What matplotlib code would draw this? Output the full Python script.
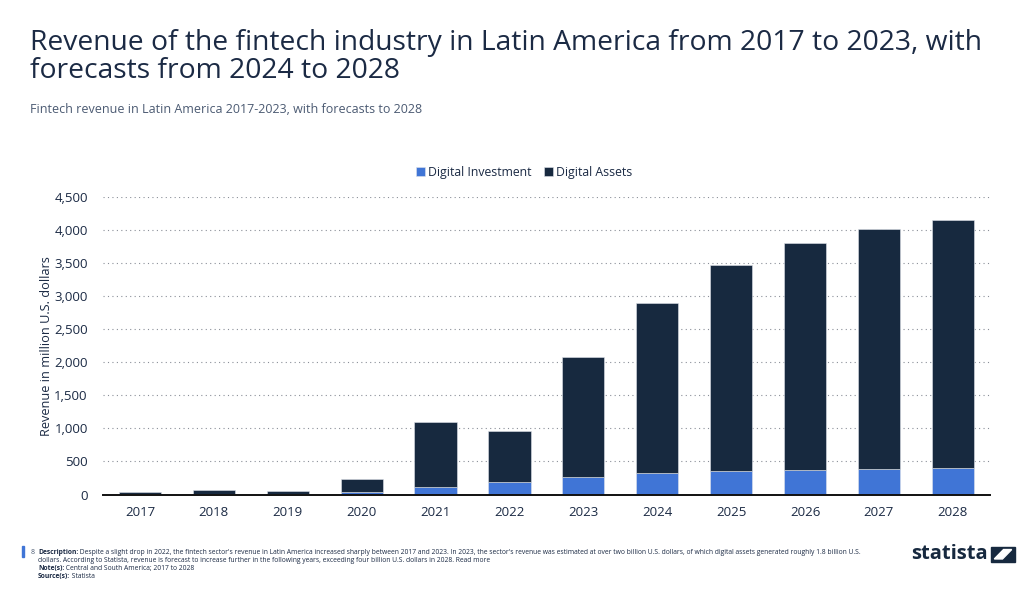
import matplotlib.pyplot as plt
import numpy as np
from matplotlib.patches import Rectangle, Polygon

# Fintech revenue in Latin America, million U.S. dollars
years = ["2017", "2018", "2019", "2020", "2021", "2022", "2023",
         "2024", "2025", "2026", "2027", "2028"]
digital_investment = [3, 4, 4, 35, 110, 185, 262, 322, 350, 375, 388, 400]
digital_assets = [37, 58, 56, 195, 990, 777, 1811, 2568, 3122, 3425, 3634, 3745]
y_ticks = [0, 500, 1000, 1500, 2000, 2500, 3000, 3500, 4000, 4500]

BLUE = "#4075d6"
NAVY = "#17293f"
TEXT = "#1b2a44"
GREY = "#4b5a72"

plt.rcParams["font.family"] = ["Open Sans", "DejaVu Sans"]

fig = plt.figure(figsize=(10.24, 5.89), dpi=100)
ax = fig.add_axes([0.1006, 0.1604, 0.866, 0.5052])

x = np.arange(len(years))
ax.bar(x, digital_investment, width=0.57, color=BLUE, label="Digital Investment",
       edgecolor="#dfe3ea", linewidth=0.4, zorder=3)
ax.bar(x, digital_assets, width=0.57, bottom=digital_investment, color=NAVY,
       label="Digital Assets", edgecolor="#dfe3ea", linewidth=0.4, zorder=3)

ax.set_xlim(-0.5, len(years) - 0.5)
ax.set_ylim(0, 4500)
ax.set_xticks(x)
ax.set_xticklabels(years)
ax.set_yticks(y_ticks)
ax.set_yticklabels([f"{v:,}" for v in y_ticks])
ax.tick_params(axis="both", length=0, labelsize=9.5, colors=TEXT)
ax.tick_params(axis="y", pad=11)
ax.tick_params(axis="x", pad=8)

ax.grid(axis="y", linestyle=(0, (1, 3)), color="#8a8f98", linewidth=0.8, zorder=0)
for side in ["top", "right", "left"]:
    ax.spines[side].set_visible(False)
ax.spines["bottom"].set_color("#111111")
ax.spines["bottom"].set_linewidth(1.4)
ax.spines["bottom"].set_zorder(4)

ax.set_ylabel("Revenue in million U.S. dollars", fontsize=9.2, color=TEXT, labelpad=1)

ax.legend(loc="lower center", bbox_to_anchor=(0.475, 1.025), ncol=2, frameon=False,
          fontsize=8.8, handlelength=0.75, handleheight=0.75, handletextpad=0.25,
          columnspacing=1.0, labelcolor=TEXT)

# Titles
fig.text(0.029, 0.856, "Revenue of the fintech industry in Latin America from 2017 to 2023, with\n"
         "forecasts from 2024 to 2028", fontsize=20.3, color=TEXT, va="bottom",
         linespacing=0.98)
fig.text(0.029, 0.803, "Fintech revenue in Latin America 2017-2023, with forecasts to 2028",
         fontsize=9.0, color=GREY, va="bottom")

# Footer
fig.patches.append(Rectangle((0.0215, 0.055), 0.0022, 0.018, transform=fig.transFigure,
                             color=BLUE, figure=fig))
fig.text(0.030, 0.059, "8", fontsize=5, color=GREY)
fs = 4.9
footer = [
    ("Description:", " Despite a slight drop in 2022, the fintech sector's revenue in Latin America "
     "increased sharply between 2017 and 2023. In 2023, the sector's revenue was estimated at "
     "over two billion U.S. dollars, of which digital assets generated roughly 1.8 billion U.S.", 0.056),
    ("Note(s):", " Central and South America; 2017 to 2028", 0.029),
    ("Source(s):", " Statista", 0.015),
]
for lab, body, yy in footer:
    t = fig.text(0.037, yy, lab, fontsize=fs, fontweight="bold", color=TEXT, va="bottom")
    ax.annotate(body, xy=(1, 0), xycoords=t, va="bottom", fontsize=fs, color=TEXT,
                annotation_clip=False)
fig.text(0.037, 0.0425, "dollars. According to Statista, revenue is forecast to increase further in "
         "the following years, exceeding four billion U.S. dollars in 2028. Read more",
         fontsize=fs, color=TEXT, va="bottom")

fig.text(0.890, 0.043, "statista", fontsize=14.5, fontweight="bold", color=NAVY, va="bottom")
fig.patches.append(Rectangle((0.968, 0.046), 0.023, 0.026, transform=fig.transFigure,
                             color=NAVY, figure=fig))
fig.patches.append(Polygon([(0.971, 0.051), (0.979, 0.051), (0.988, 0.067), (0.980, 0.067)],
                           closed=True, transform=fig.transFigure, color="white", figure=fig))

fig.savefig("out.png", dpi=100, facecolor="white")
